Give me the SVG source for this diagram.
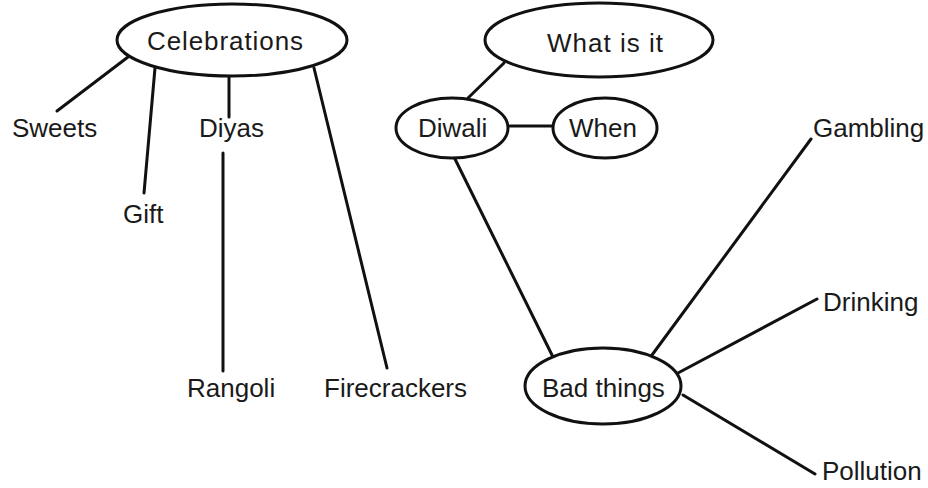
<svg xmlns="http://www.w3.org/2000/svg" width="928" height="488" viewBox="0 0 928 488">
<style>
  .n ellipse { fill: #fff; stroke: #111; stroke-width: 3; }
  text { font-family: "Liberation Sans", Arial, sans-serif; font-size: 26px; fill: #1a1a1a; }
  #connectors line { stroke: #111; stroke-width: 3; stroke-linecap: round; }
</style>
<rect width="928" height="488" fill="#fff"/>
<g id="connectors">
  <line x1="128" y1="57" x2="57" y2="111"/>
  <line x1="155" y1="68" x2="144" y2="193"/>
  <line x1="229" y1="77" x2="229" y2="117"/>
  <line x1="223" y1="153" x2="223" y2="371"/>
  <line x1="314" y1="68" x2="387" y2="368"/>
  <line x1="504" y1="63" x2="468" y2="98"/>
  <line x1="510" y1="126" x2="553" y2="126"/>
  <line x1="454" y1="157" x2="552" y2="355"/>
  <line x1="652" y1="355" x2="811" y2="139"/>
  <line x1="678" y1="373" x2="817" y2="299"/>
  <line x1="683" y1="395" x2="815" y2="474"/>
</g>
<g id="celebrations" class="n"><ellipse cx="232" cy="40" rx="115" ry="36"/><text x="147" y="50" textLength="156">Celebrations</text></g>
<g id="whatisit" class="n"><ellipse cx="599" cy="40" rx="114" ry="37"/><text x="547" y="52" textLength="116">What is it</text></g>
<g id="diwali" class="n"><ellipse cx="452" cy="128" rx="56" ry="30"/><text x="418" y="137">Diwali</text></g>
<g id="when" class="n"><ellipse cx="605" cy="128" rx="52" ry="30"/><text x="569" y="137">When</text></g>
<g id="badthings" class="n"><ellipse cx="603" cy="386" rx="78" ry="38"/><text x="542" y="397">Bad things</text></g>
<g id="sweets"><text x="12" y="137">Sweets</text></g>
<g id="gift"><text x="123" y="223">Gift</text></g>
<g id="diyas"><text x="199" y="137">Diyas</text></g>
<g id="rangoli"><text x="187" y="397">Rangoli</text></g>
<g id="firecrackers"><text x="324" y="397">Firecrackers</text></g>
<g id="gambling"><text x="813" y="137">Gambling</text></g>
<g id="drinking"><text x="823" y="311">Drinking</text></g>
<g id="pollution"><text x="822" y="480">Pollution</text></g>
</svg>
